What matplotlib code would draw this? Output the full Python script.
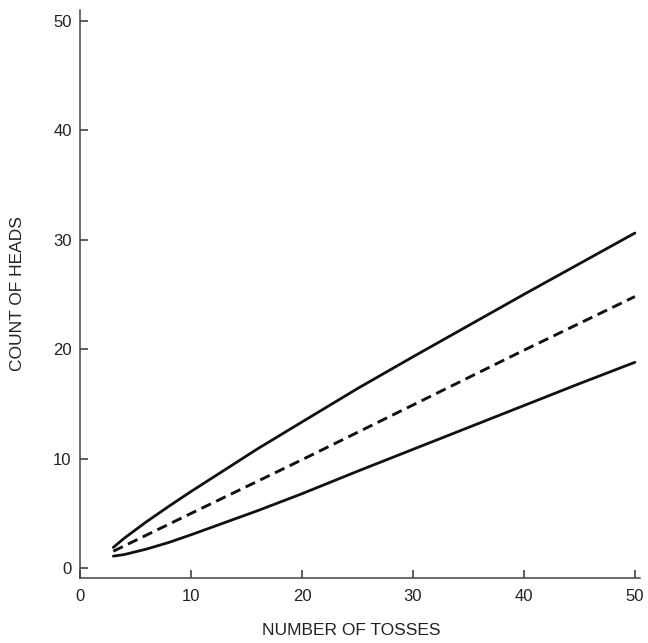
import matplotlib.pyplot as plt

plt.rcParams['font.family'] = ['Liberation Sans', 'DejaVu Sans']

# Number of tosses (x) and count of heads (y)
x_upper = [3, 4, 6, 8, 10, 13, 16, 20, 25, 30, 35, 40, 45, 50]
upper = [1.9, 2.75, 4.25, 5.65, 7.0, 8.95, 10.9, 13.35, 16.4, 19.3, 22.15, 25.0, 27.8, 30.6]

x_mid = [3, 10, 20, 30, 40, 50]
middle = [1.55, 5.0, 9.9, 14.9, 19.9, 24.8]

x_lower = [3, 4, 6, 8, 10, 13, 16, 20, 25, 30, 35, 40, 45, 50]
lower = [1.1, 1.25, 1.75, 2.35, 3.05, 4.15, 5.25, 6.8, 8.85, 10.85, 12.85, 14.85, 16.85, 18.8]

ticks = [0, 10, 20, 30, 40, 50]

fig = plt.figure(figsize=(6.48, 6.43), dpi=100)
ax = fig.add_axes([0.1235, 0.101, 0.864, 0.8834])

ax.plot(x_upper, upper, color='#111111', lw=2.0, solid_capstyle='round')
ax.plot(x_mid, middle, color='#111111', lw=2.1, linestyle=(0, (3.6, 2.0)))
ax.plot(x_lower, lower, color='#111111', lw=2.0, solid_capstyle='round')

ax.set_xlim(0, 50.45)
ax.set_ylim(-0.9, 50.96)
ax.set_xticks(ticks)
ax.set_yticks(ticks)

for side in ['top', 'right']:
    ax.spines[side].set_visible(False)
for side in ['left', 'bottom']:
    ax.spines[side].set_color('#444444')
    ax.spines[side].set_linewidth(1.1)

ax.tick_params(axis='both', direction='in', length=6, width=1.1, color='#333333',
               labelsize=12, labelcolor='#222222')
ax.tick_params(axis='x', pad=8)
ax.tick_params(axis='y', pad=6)

ax.set_xlabel('NUMBER OF TOSSES', fontsize=12.5, color='#222222')
ax.xaxis.set_label_coords(0.484, -0.079)
ax.set_ylabel('COUNT OF HEADS', fontsize=12.5, color='#222222')
ax.yaxis.set_label_coords(-0.098, 0.5)

fig.savefig('out.png', dpi=100)
